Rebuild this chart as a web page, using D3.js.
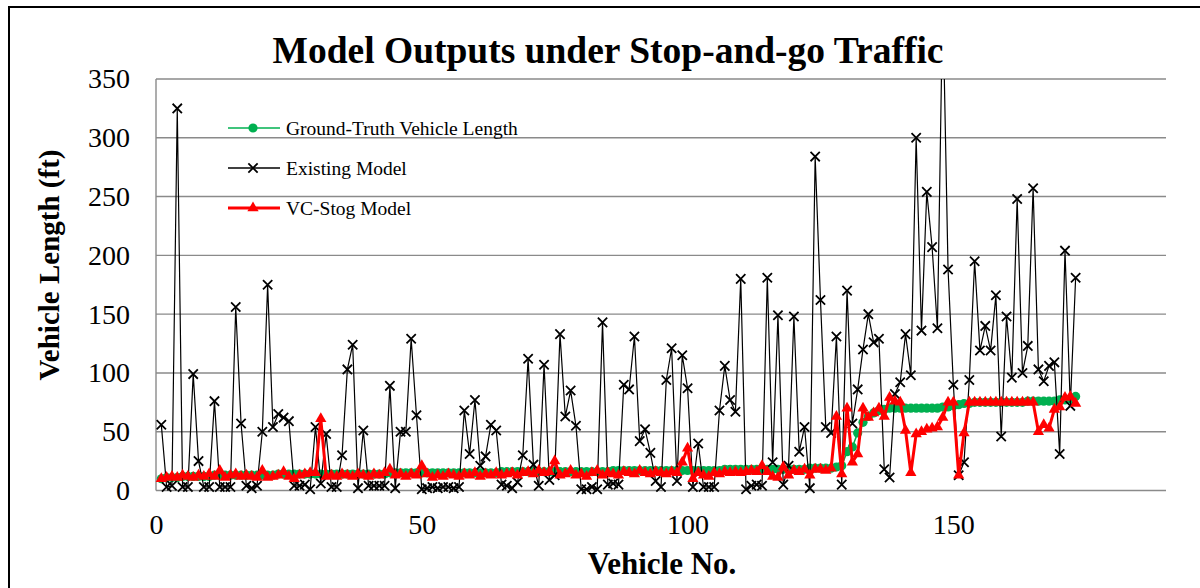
<!DOCTYPE html>
<html>
<head>
<meta charset="utf-8">
<script src="https://cdn.jsdelivr.net/npm/d3@7"></script>
<style>
  body { margin: 0; background: #fff; }
  svg { display: block; }
</style>
</head>
<body>
<script>
// vehicle numbers 1..173
const vehicleNo = d3.range(1, 174);

const groundTruth = [
  10,11,11,11,12,12,12,12,12,12,
  13,13,13,13,13,13,13,13,13,13,
  13,13,14,14,14,14,14,14,14,14,
  14,14,14,14,14,14,14,14,14,14,
  14,14,14,15,15,15,15,15,15,15,
  15,15,15,15,15,15,15,15,15,15,
  15,15,15,15,16,16,16,16,16,16,
  16,16,16,16,16,16,16,16,16,16,
  16,16,16,16,16,17,17,17,17,17,
  17,17,17,17,17,17,17,17,17,17,
  17,17,17,17,17,17,18,18,18,18,
  18,18,18,18,18,18,18,18,18,18,
  18,18,19,19,19,19,19,20,21,
  33,37,49,58,63,66,68,69,
  70,70,70,70,70,70,70,70,70,70,71,71,72,
  73,74,74,75,75,75,75,75,75,75,
  75,75,75,76,76,76,76,76,76,77,
  77,78,80
];

const existingModel = [
  56,3,4,325,3,3,99,25,3,3,
  76,3,3,3,156,57,4,2,4,50,
  175,54,65,62,59,4,4,5,1,54,
  6,48,3,3,30,103,124,2,51,4,
  4,4,4,89,2,50,50,129,64,1,
  2,3,2,3,3,2,3,68,31,77,
  21,29,56,51,5,4,2,7,30,112,
  22,4,107,9,13,133,63,85,55,1,
  1,3,1,143,5,6,5,90,86,131,
  42,52,32,8,3,94,121,8,115,87,
  3,40,3,3,3,68,106,77,67,180,
  1,4,5,4,181,24,149,5,21,148,
  33,54,2,284,162,54,49,131,5,170,
  57,86,120,150,126,129,18,11,82,92,
  133,98,300,136,254,207,138,420,188,90,
  13,24,94,195,119,140,119,166,46,148,
  96,248,100,123,257,103,93,106,109,31,
  204,72,181
];

const vcStog = [
  10,11,12,11,13,12,11,13,12,14,
  12,17,11,13,14,12,13,12,11,17,
  11,12,13,16,12,10,13,14,15,15,
  61,12,13,12,14,13,12,14,13,12,
  14,13,15,18,13,14,12,14,13,21,
  14,11,13,12,14,13,12,14,13,15,
  12,14,13,15,13,14,15,13,15,16,
  14,17,15,16,25,13,14,17,13,14,
  12,15,17,13,15,14,13,16,15,14,
  17,15,14,16,15,14,16,15,24,36,
  10,15,13,12,15,14,16,15,16,15,
  16,17,16,21,16,12,11,20,13,17,
  16,18,13,18,18,17,19,63,14,70,
  24,31,70,62,66,70,63,79,76,75,
  51,15,48,50,52,53,54,62,75,75,
  13,49,75,75,75,75,75,75,75,75,
  75,75,75,75,75,50,56,53,69,71,
  79,80,74
];

const xTicks = [0, 50, 100, 150];
const yTicks = [0, 50, 100, 150, 200, 250, 300, 350];

const W = 1200, H = 588;
const serif = "'Liberation Serif', 'Times New Roman', serif";

const svg = d3.select('body').append('svg')
  .attr('width', W)
  .attr('height', H);

// outer frame (runs past the right and bottom edge)
svg.append('rect')
  .attr('x', 9).attr('y', 7)
  .attr('width', 1300).attr('height', 700)
  .attr('fill', 'none')
  .attr('stroke', '#000')
  .attr('stroke-width', 2);

const x = d3.scaleLinear().domain([0, 190]).range([156, 1166]);
const y = d3.scaleLinear().domain([0, 350]).range([490.5, 79]);

// gridlines
svg.append('g')
  .selectAll('line')
  .data(yTicks)
  .enter().append('line')
  .attr('x1', x(0)).attr('x2', x(190))
  .attr('y1', d => y(d)).attr('y2', d => y(d))
  .attr('stroke', '#8a8a8a')
  .attr('stroke-width', 1.4);

svg.append('line')
  .attr('x1', x(0)).attr('x2', x(0))
  .attr('y1', y(0)).attr('y2', y(350))
  .attr('stroke', '#8a8a8a')
  .attr('stroke-width', 1.4);

// axes (labels only)
const yAxis = d3.axisLeft(y).tickValues(yTicks).tickSize(0).tickPadding(26);
svg.append('g')
  .attr('transform', 'translate(' + x(0) + ',0)')
  .call(yAxis)
  .call(g => g.select('.domain').remove())
  .selectAll('text')
  .style('font-family', serif)
  .style('font-size', '28px')
  .attr('fill', '#000');

const xAxis = d3.axisBottom(x).tickValues(xTicks).tickSize(0).tickPadding(24).tickFormat(d3.format('d'));
svg.append('g')
  .attr('transform', 'translate(0,' + y(0) + ')')
  .call(xAxis)
  .call(g => g.select('.domain').remove())
  .selectAll('text')
  .style('font-family', serif)
  .style('font-size', '28px')
  .attr('fill', '#000');

svg.append('clipPath').attr('id', 'plot')
  .append('rect')
  .attr('x', x(0) - 10).attr('y', y(350))
  .attr('width', x(190) - x(0) + 20).attr('height', y(0) - y(350) + 10);

const plot = svg.append('g').attr('clip-path', 'url(#plot)');

const line = d3.line()
  .x((d, i) => x(vehicleNo[i]))
  .y(d => y(d));

// ground truth
plot.append('path')
  .datum(groundTruth)
  .attr('d', line)
  .attr('fill', 'none')
  .attr('stroke', '#00b050')
  .attr('stroke-width', 1.5);

plot.selectAll('.gt')
  .data(groundTruth)
  .enter().append('circle')
  .attr('class', 'gt')
  .attr('cx', (d, i) => x(vehicleNo[i]))
  .attr('cy', d => y(d))
  .attr('r', 4.6)
  .attr('fill', '#00b050');

// existing model
plot.append('path')
  .datum(existingModel)
  .attr('d', line)
  .attr('fill', 'none')
  .attr('stroke', '#000')
  .attr('stroke-width', 1.2);

const cross = d3.symbol().type(d3.symbolX).size(58);
plot.selectAll('.ex')
  .data(existingModel)
  .enter().append('path')
  .attr('class', 'ex')
  .attr('d', cross)
  .attr('transform', (d, i) => 'translate(' + x(vehicleNo[i]) + ',' + y(d) + ')')
  .attr('fill', 'none')
  .attr('stroke', '#000')
  .attr('stroke-width', 1.8);

// VC-Stog model
plot.append('path')
  .datum(vcStog)
  .attr('d', line)
  .attr('fill', 'none')
  .attr('stroke', '#ff0000')
  .attr('stroke-width', 3)
  .attr('stroke-linejoin', 'round');

const tri = d3.symbol().type(d3.symbolTriangle).size(55);
plot.selectAll('.vc')
  .data(vcStog)
  .enter().append('path')
  .attr('class', 'vc')
  .attr('d', tri)
  .attr('transform', (d, i) => 'translate(' + x(vehicleNo[i]) + ',' + y(d) + ')')
  .attr('fill', '#ff0000');

// legend
const legendItems = ['Ground-Truth Vehicle Length', 'Existing Model', 'VC-Stog Model'];
const legendY = [128, 168, 208];
const lg = svg.append('g');
legendItems.forEach((name, i) => {
  const ly = legendY[i];
  const colour = i === 0 ? '#00b050' : i === 1 ? '#000' : '#ff0000';
  lg.append('line')
    .attr('x1', 228).attr('x2', 280)
    .attr('y1', ly).attr('y2', ly)
    .attr('stroke', colour)
    .attr('stroke-width', i === 2 ? 3 : 1.3);
  if (i === 0) {
    lg.append('circle').attr('cx', 253).attr('cy', ly).attr('r', 4.6).attr('fill', colour);
  } else if (i === 1) {
    lg.append('path').attr('d', cross).attr('transform', 'translate(253,' + ly + ')')
      .attr('fill', 'none').attr('stroke', colour).attr('stroke-width', 1.8);
  } else {
    lg.append('path').attr('d', tri).attr('transform', 'translate(253,' + ly + ')')
      .attr('fill', colour);
  }
  lg.append('text')
    .attr('x', 286).attr('y', ly + 7)
    .style('font-family', serif)
    .style('font-size', '19.5px')
    .text(name);
});

// titles
svg.append('text')
  .attr('x', 608).attr('y', 63)
  .attr('text-anchor', 'middle')
  .style('font-family', serif)
  .style('font-size', '37.5px')
  .style('font-weight', 'bold')
  .text('Model Outputs under Stop-and-go Traffic');

svg.append('text')
  .attr('transform', 'translate(59,265) rotate(-90)')
  .attr('text-anchor', 'middle')
  .style('font-family', serif)
  .style('font-size', '29px')
  .style('font-weight', 'bold')
  .text('Vehicle Length (ft)');

svg.append('text')
  .attr('x', 662).attr('y', 574)
  .attr('text-anchor', 'middle')
  .style('font-family', serif)
  .style('font-size', '31px')
  .style('font-weight', 'bold')
  .text('Vehicle No.');
</script>
</body>
</html>
